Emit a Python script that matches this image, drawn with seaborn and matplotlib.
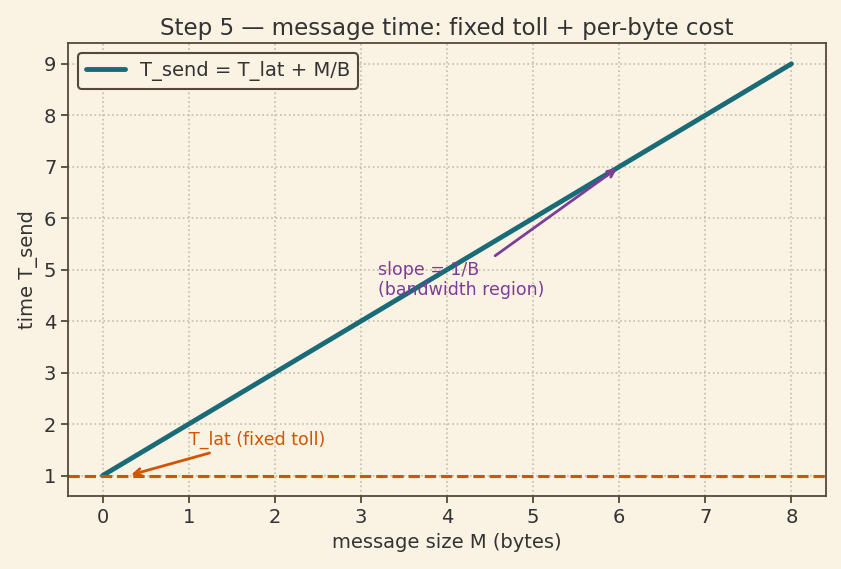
import numpy as np
import matplotlib
matplotlib.use("Agg")
import matplotlib.pyplot as plt
import seaborn as sns

# data
msg_size = [0, 1, 2, 3, 4, 5, 6, 7, 8]
t_send = [1, 2, 3, 4, 5, 6, 7, 8, 9]
t_lat = 1.0

bg = "#faf3e3"
edge = "#54483c"
sns.set_theme(style="whitegrid", rc={
    "axes.facecolor": bg,
    "figure.facecolor": bg,
    "axes.edgecolor": edge,
    "text.color": "#333333",
    "axes.labelcolor": "#333333",
    "xtick.color": "#333333",
    "ytick.color": "#333333",
    "xtick.bottom": True,
    "ytick.left": True,
})
plt.rcParams['font.family'] = ['DejaVu Sans']

fig, ax = plt.subplots(figsize=(8.41, 5.69), dpi=100)
sns.lineplot(x=msg_size, y=t_send, ax=ax, color="#1a6b78", linewidth=3.5,
             label="T_send = T_lat + M/B")
ax.axhline(t_lat, color="#d35400", linestyle="--", linewidth=2.2)

ax.annotate("T_lat (fixed toll)", xy=(0.3, 1.0), xytext=(1.0, 1.6),
            color="#d35400", fontsize=12.5,
            arrowprops=dict(arrowstyle="->", color="#d35400", lw=2))
ax.annotate("slope = 1/B\n(bandwidth region)", xy=(6, 7), xytext=(3.2, 4.5),
            color="#7d3c98", fontsize=12.5,
            arrowprops=dict(arrowstyle="->", color="#7d3c98", lw=2))

ax.set_title("Step 5 — message time: fixed toll + per-byte cost", fontsize=16.6)
ax.set_xlabel("message size M (bytes)", fontsize=14)
ax.set_ylabel("time T_send", fontsize=14)
ax.tick_params(labelsize=14, width=1.3, length=5, color=edge)
ax.set_yticks(range(1, 10))
for s in ax.spines.values():
    s.set_visible(True)
    s.set_color(edge)
    s.set_linewidth(1.3)
ax.grid(True, linestyle=":", color="#c4bcae", linewidth=1.2)
leg = ax.legend(loc="upper left", fontsize=14, frameon=True, facecolor=bg,
                edgecolor=edge, framealpha=1)
leg.get_frame().set_linewidth(1.5)
fig.subplots_adjust(left=0.081, right=0.982, top=0.924, bottom=0.128)
fig.savefig("out.png", dpi=100, facecolor=bg)
